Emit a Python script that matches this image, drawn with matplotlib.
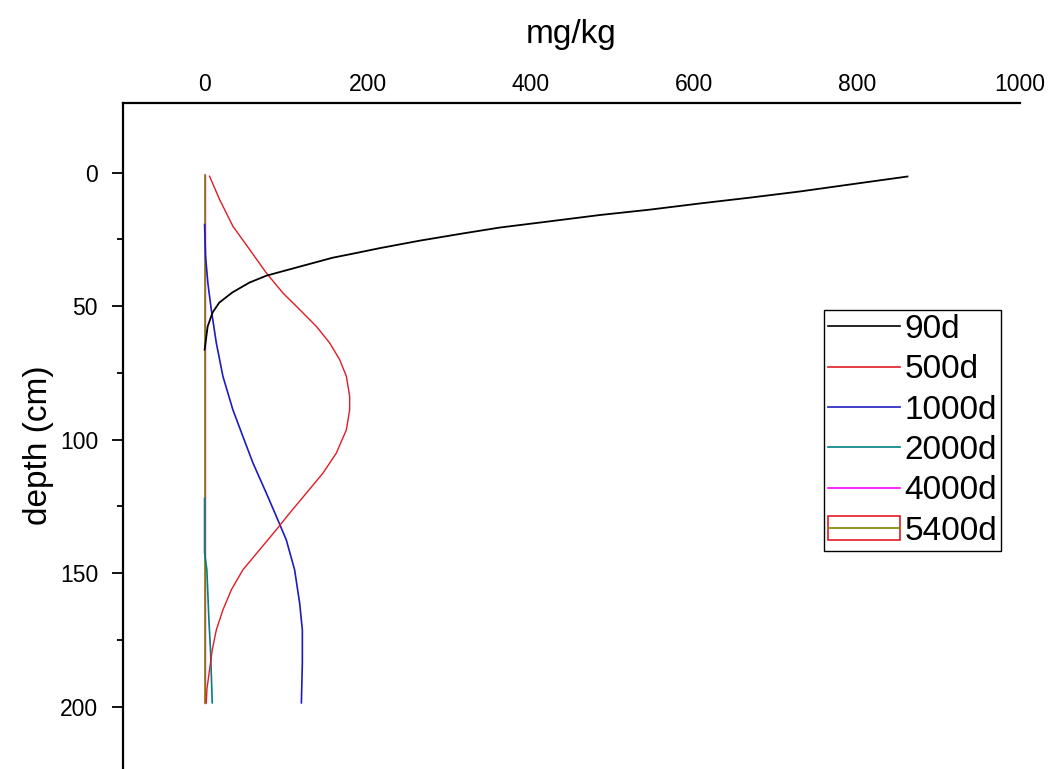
import numpy as np
import matplotlib
matplotlib.use("Agg")
import matplotlib.pyplot as plt
from matplotlib.lines import Line2D
from matplotlib.patches import Rectangle
from matplotlib.legend_handler import HandlerTuple
from matplotlib.ticker import FixedLocator

plt.rcParams['font.family'] = ['Liberation Sans', 'DejaVu Sans']

# ------------------------------------------------------------------
# Perfiles de concentración (mg/kg) frente a profundidad (cm)
# ------------------------------------------------------------------
depth_90 = [1.5, 4.5, 7.1, 9.4, 11.6, 13.9, 15.9, 18.4, 20.6, 22.8, 25.5, 28.3,
            30.0, 31.9, 35.2, 38.6, 41.2, 44.9, 48.7, 52.4, 57.7, 63.7, 66.3]
conc_90 = [862, 791, 730, 669, 607, 546, 485, 420, 362, 317, 264, 215,
           188, 157, 117, 76, 55, 34, 18, 9.8, 3.7, 1.2, 0]

depth_500 = [1.4, 10.1, 20.1, 28.8, 37.6, 45.1, 51.3, 57.6, 63.8, 70.0, 76.3, 83.8,
             88.8, 96.3, 105.0, 112.5, 120.0, 127.5, 133.7, 141.2, 148.7, 156.2,
             163.7, 171.2, 178.7, 186.1, 193.6, 198.5]
conc_500 = [6.1, 18.4, 34.7, 55.2, 75.7, 96.1, 116.6, 137.1, 153.4, 165.6, 173.9, 177.9,
            177.9, 173.9, 161.6, 145.2, 124.8, 104.3, 88.0, 67.5, 47.0, 32.8,
            22.5, 14.4, 9.4, 6.1, 2.8, 2.1]

depth_1000 = [19.5, 31.3, 41.3, 51.3, 63.8, 76.3, 88.8, 98.8, 108.7, 120.0, 128.7,
              137.5, 148.7, 161.2, 171.2, 183.6, 198.5]
conc_1000 = [0, 1.2, 4.0, 8.2, 14.4, 22.5, 34.7, 47.0, 59.3, 75.7, 88.0,
             100.2, 110.4, 116.6, 119.9, 119.9, 118.7]

depth_2000 = [122, 142.3, 148.7, 167.4, 179.8, 198.5]
conc_2000 = [0, 0, 2.8, 5.3, 7.4, 9.4]

depth_4000 = [1, 198.5]
conc_4000 = [0, 0]

depth_5400 = [1, 198.5]
conc_5400 = [0, 0]

labels = ['90d', '500d', '1000d', '2000d', '4000d', '5400d']
colors = ['black', '#e01b24', '#1c1cc0', '#008080', '#ff00ff', '#808000']

x_ticks = [0, 200, 400, 600, 800, 1000]
y_ticks = [0, 50, 100, 150, 200]
y_minor = [25, 75, 125, 175]

# ------------------------------------------------------------------
fig = plt.figure(figsize=(10.48, 7.69), dpi=100)
ax = fig.add_axes([0.1174, -0.0234, 0.8559, 0.8894])

ax.plot(conc_4000, depth_4000, color=colors[4], lw=1.0, zorder=1.0)
ax.plot(conc_5400, depth_5400, color=colors[5], lw=1.2, zorder=1.1)
ax.plot(conc_2000, depth_2000, color=colors[3], lw=1.2, zorder=2)
ax.plot(conc_1000, depth_1000, color=colors[2], lw=1.2, zorder=3)
ax.plot(conc_500, depth_500, color=colors[1], lw=1.0, zorder=4)
ax.plot(conc_90, depth_90, color=colors[0], lw=1.3, zorder=5)

ax.set_xlim(-100, 1000)
ax.set_ylim(230, -26)

# eje x arriba, sin marcas
ax.xaxis.tick_top()
ax.xaxis.set_label_position('top')
ax.set_xticks(x_ticks)
ax.tick_params(axis='x', length=0, pad=5, labelsize=16.5)
ax.set_xlabel('mg/kg', fontsize=24, labelpad=22)

ax.set_yticks(y_ticks)
ax.yaxis.set_minor_locator(FixedLocator(y_minor))
ax.tick_params(axis='y', which='major', length=8, width=1.3, pad=10, labelsize=16.5)
ax.tick_params(axis='y', which='minor', length=4.3, width=1.3)
ax.set_ylabel('depth (cm)', fontsize=24, labelpad=4)

for s in ['right', 'bottom']:
    ax.spines[s].set_visible(False)
for s in ['left', 'top']:
    ax.spines[s].set_linewidth(1.6)

# leyenda
handles = [Line2D([], [], color=c, lw=1.2) for c in colors[:5]]
handles.append((Rectangle((0, 0), 1, 1, facecolor='none', edgecolor=colors[1], lw=1.2),
                Line2D([], [], color=colors[5], lw=1.2)))
leg = fig.legend(handles, labels, loc='upper left',
                 bbox_to_anchor=(824 / 1048, 1 - 310 / 769),
                 fontsize=24, frameon=True, fancybox=False,
                 edgecolor='black', framealpha=1,
                 handlelength=2.15, handletextpad=0.15,
                 labelspacing=0.28, borderpad=0.12, borderaxespad=0,
                 handler_map={tuple: HandlerTuple(ndivide=1)})
leg.get_frame().set_linewidth(1.0)

fig.savefig('out.png', dpi=100, facecolor='white')
